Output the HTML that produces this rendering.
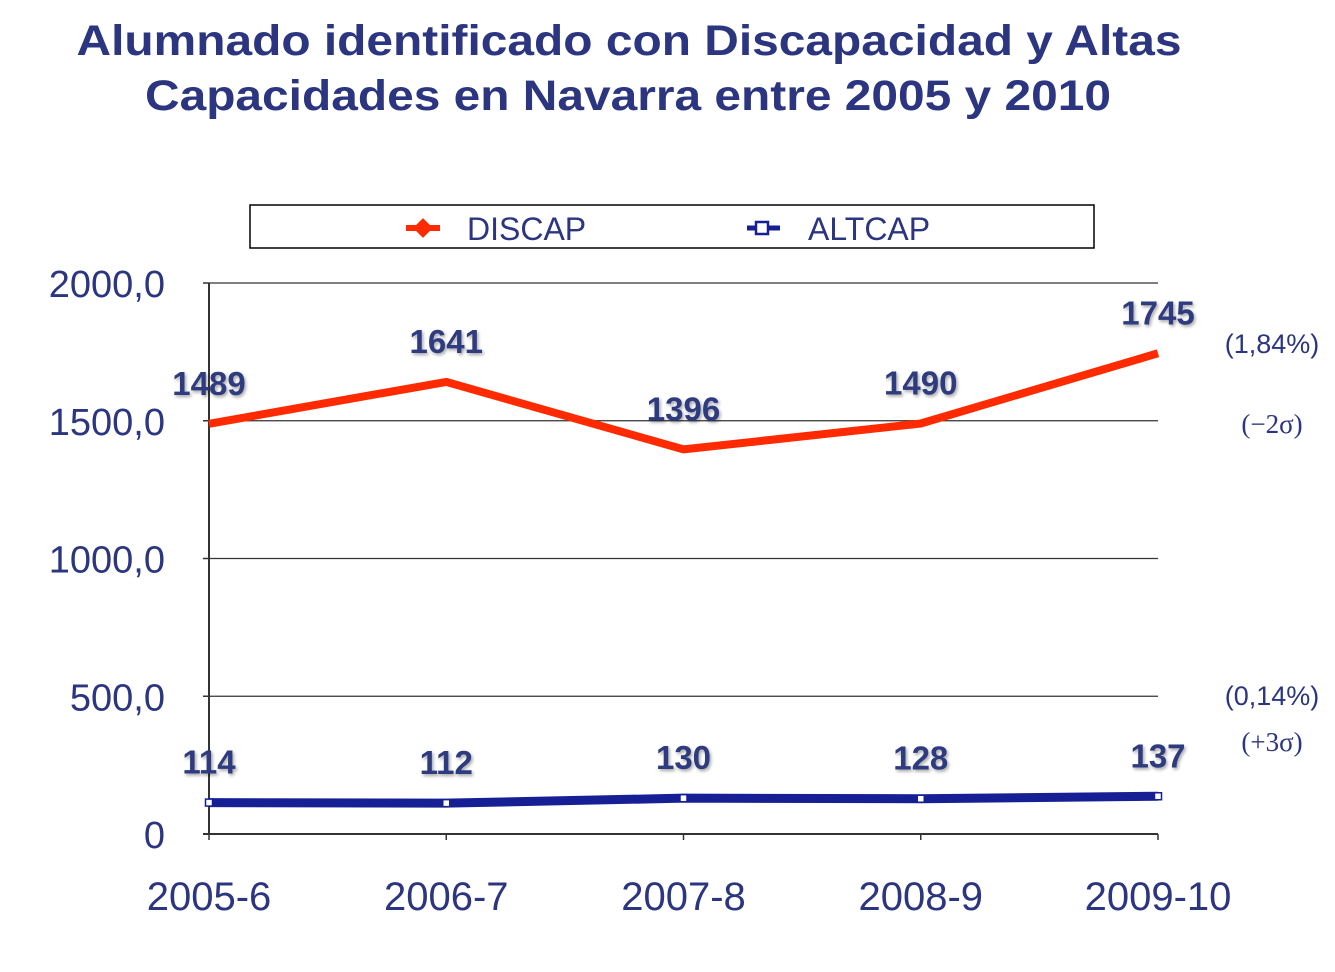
<!DOCTYPE html>
<html><head><meta charset="utf-8"><style>
body{margin:0;background:#fff;}
svg text{font-family:"Liberation Sans",sans-serif;}
</style></head><body>
<svg width="1335" height="967" xmlns="http://www.w3.org/2000/svg" id="chart">
<defs><filter id="sh" x="-20%" y="-20%" width="140%" height="140%"><feDropShadow dx="1.5" dy="2" stdDeviation="1.5" flood-color="#000" flood-opacity="0.35"/></filter></defs>
<g fill="#2b3580" font-weight="bold" font-size="43" text-anchor="middle">
<text x="629" y="55" textLength="1105" lengthAdjust="spacingAndGlyphs">Alumnado identificado con Discapacidad y Altas</text>
<text x="628" y="110" textLength="966" lengthAdjust="spacingAndGlyphs">Capacidades en Navarra entre 2005 y 2010</text>
</g>
<g>
<rect x="250" y="205" width="844" height="43" fill="#fff" stroke="#000" stroke-width="1.5"/>
<line x1="406" y1="228" x2="440" y2="228" stroke="#ff2a00" stroke-width="6"/>
<rect x="416" y="221" width="14" height="14" fill="#ff2a00" transform="rotate(45 423 228)"/>
<text x="467" y="240" font-size="32" fill="#2b3580">DISCAP</text>
<line x1="747" y1="228" x2="780" y2="228" stroke="#161f94" stroke-width="5"/>
<rect x="756" y="222" width="12" height="12" fill="#fff" stroke="#161f94" stroke-width="2.5"/>
<text x="808" y="240" font-size="32" fill="#2b3580">ALTCAP</text>
</g>
<g id="grid"></g>
<g id="axes"></g>
<g id="series"></g>
<g fill="#2b3580" font-size="27" text-anchor="middle">
<text x="1272" y="353" style="font-family:'Liberation Sans'">(1,84%)</text>
<text x="1272" y="433" style="font-family:'Liberation Serif'">(−2σ)</text>
<text x="1272" y="705" style="font-family:'Liberation Sans'">(0,14%)</text>
<text x="1272" y="751" style="font-family:'Liberation Serif'">(+3σ)</text>
</g>
</svg>
<script>
const categories=["2005-6","2006-7","2007-8","2008-9","2009-10"];
const discap=[1489,1641,1396,1490,1745];
const altcap=[114,112,130,128,137];
const yTicks=[0,500,1000,1500,2000];
const yTickLabels=["0","500,0","1000,0","1500,0","2000,0"];
const NS="http://www.w3.org/2000/svg";
const x0=209,x1=1158,yb=834,yt=283,ymax=2000;
function xs(i){return x0+i*(x1-x0)/(categories.length-1);}
function ys(v){return yb-v*(yb-yt)/ymax;}
function mk(tag,attrs,parent){const e=document.createElementNS(NS,tag);for(const k in attrs)e.setAttribute(k,attrs[k]);parent.appendChild(e);return e;}
const grid=document.getElementById('grid'),axes=document.getElementById('axes'),series=document.getElementById('series');
yTicks.forEach((t,i)=>{
  if(t>0){const g=mk('line',{x1:x0,x2:x1,y1:ys(t),y2:ys(t),stroke:'#333','stroke-width':1.3},grid);
  
  }
  const tk=mk('line',{x1:x0-6,x2:x0,y1:ys(t),y2:ys(t),stroke:'#333','stroke-width':1.5},axes);
  
  
  const l=mk('text',{x:165,y:ys(t)+14,'text-anchor':'end','font-size':38,fill:'#2b3580'},axes);
  l.textContent=yTickLabels[i];
  
  
});
const ya=mk('line',{x1:x0,x2:x0,y1:yt,y2:yb,stroke:'#333','stroke-width':2},axes);


const xa=mk('line',{x1:x0-6,x2:x1,y1:yb,y2:yb,stroke:'#333','stroke-width':2},axes);


categories.forEach((c,i)=>{
  const tk=mk('line',{x1:xs(i),x2:xs(i),y1:yb,y2:yb+6,stroke:'#333','stroke-width':1.5},axes);
  
  
  const l=mk('text',{x:xs(i),y:910,'text-anchor':'middle','font-size':40,fill:'#2b3580'},axes);
  l.textContent=c;
  
  
});
function draw(vals,color,w,name,marker){
  const p=mk('polyline',{points:vals.map((v,i)=>xs(i)+','+ys(v)).join(' '),fill:'none',stroke:color,'stroke-width':w,'stroke-linejoin':'round'},series);
  
  
  vals.forEach((v,i)=>{
    if(marker){const m=mk('rect',{x:xs(i)-3.5,y:ys(v)-3.5,width:7,height:7,fill:'#fff',stroke:'#161f94','stroke-width':1.5},series);
    
    }
    const t=mk('text',{x:xs(i),y:ys(v)-29,'text-anchor':'middle','font-size':33,'font-weight':'bold',fill:'#2e3a7e',filter:'url(#sh)'},series);
    t.textContent=v;
    
    
  });
}
draw(discap,'#ff2a00',8,'discap',false);
draw(altcap,'#161f94',9,'altcap',true);
</script>
</body></html>
